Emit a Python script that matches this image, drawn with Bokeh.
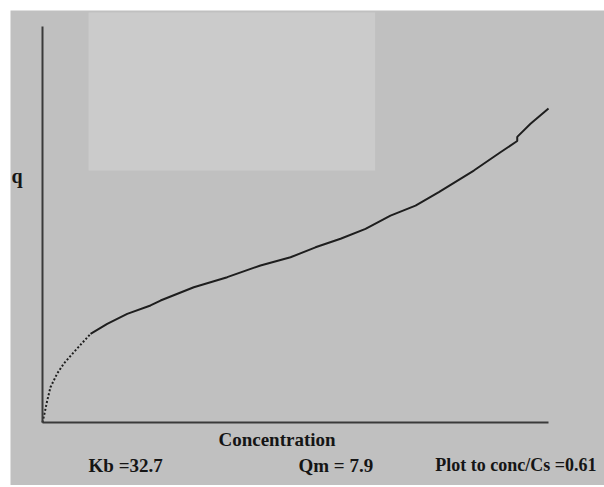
from bokeh.plotting import figure
from bokeh.models import Label, BoxAnnotation, FixedTicker, Range1d
from bokeh.embed import file_html
from bokeh.resources import INLINE

# ---- data (conc/Cs, q) ----
conc_start = [0.0, 0.0024, 0.0057, 0.0096, 0.0177, 0.0257, 0.0377, 0.0579]
q_start = [0.0, 0.57, 1.39, 2.23, 3.10, 3.73, 4.45, 5.61]

conc_main = [0.0579, 0.0780, 0.1021, 0.1302, 0.1423, 0.1824, 0.2227, 0.2628,
             0.2990, 0.3291, 0.3593, 0.3894, 0.4195, 0.4497, 0.4778, 0.5200,
             0.5521, 0.5723, 0.5723, 0.5883, 0.6100]
q_main = [5.61, 6.25, 6.88, 7.41, 7.72, 8.56, 9.20, 9.94,
          10.46, 11.09, 11.63, 12.26, 13.10, 13.73, 14.58, 15.95,
          17.11, 17.82, 18.08, 18.91, 19.87]

x_label = "Concentration"
y_label = "q"
info_texts = ["Kb =32.7", "Qm = 7.9", "Plot to conc/Cs =0.61"]

X_AXIS_END = 0.61
Y_AXIS_TOP = 25.06

BG = "#c0c0c0"
FONT = "Liberation Serif"

p = figure(width=594, height=475,
           x_range=Range1d(-0.03858, 0.6775), y_range=Range1d(-3.987, 26.08),
           output_backend="svg", toolbar_location=None,
           min_border=0, min_border_left=0, min_border_right=0,
           min_border_top=0, min_border_bottom=0,
           background_fill_color=BG, border_fill_color=BG,
           outline_line_color=None, margin=(10, 0, 0, 10))

p.grid.visible = False

for ax in (p.xaxis[0], p.yaxis[0]):
    ax.ticker = FixedTicker(ticks=[])
    ax.fixed_location = 0
    ax.axis_line_color = "#3a3a3a"
    ax.axis_line_width = 2
    ax.major_tick_line_color = None
    ax.minor_tick_line_color = None
    ax.major_label_text_color = None
    ax.major_tick_out = 0
    ax.major_tick_in = 0
    ax.major_label_standoff = 0
p.xaxis[0].bounds = (0, X_AXIS_END)
p.yaxis[0].bounds = (0, Y_AXIS_TOP)

# lighter panel at the top
p.add_layout(BoxAnnotation(left=0.0555, right=0.401, bottom=15.95, top=25.95,
                           fill_color="#cbcbcb", fill_alpha=1.0, line_color=None,
                           level="underlay"))

# curve
p.line(conc_start, q_start, line_color="#1e1e1e", line_width=2, line_dash="2 2")
p.line(conc_main, q_main, line_color="#1e1e1e", line_width=2)

txt = dict(text_font=FONT, text_font_style="bold", text_color="#151515",
           text_baseline="middle")

p.add_layout(Label(x=-0.0375, y=15.63, text=y_label, text_font_size="20px",
                   text_align="left", **txt))
p.add_layout(Label(x=0.2827, y=-1.08, text=x_label, text_font_size="19px",
                   text_align="center", **txt))
for xpos, t, fs in zip([0.0555, 0.3086, 0.4735], info_texts, ["19px", "19px", "18px"]):
    p.add_layout(Label(x=xpos, y=-2.72, text=t, text_font_size=fs,
                       text_align="left", **txt))

open("out.html", "w").write(file_html(p, INLINE))
